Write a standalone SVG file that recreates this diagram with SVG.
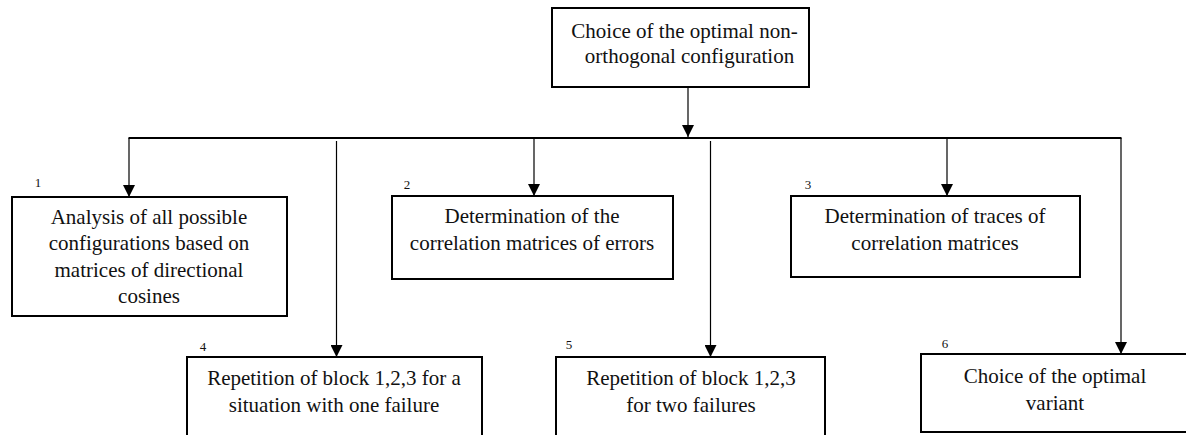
<svg xmlns="http://www.w3.org/2000/svg" width="1186" height="435" viewBox="0 0 1186 435">
<style>
.box{fill:#fff;stroke:#000;stroke-width:2}
.t{font-family:'Liberation Serif','Times New Roman',serif;font-size:21px;fill:#111;text-anchor:middle}
.n{font-family:'Liberation Serif','Times New Roman',serif;font-size:13px;fill:#111;text-anchor:middle}
.c{stroke:#000;stroke-width:1.2;fill:none}
.h{stroke:#000;stroke-width:2;fill:none}
</style>
<defs>
<marker id="arr" viewBox="0 0 12 12" refX="12" refY="6" markerWidth="12" markerHeight="12" markerUnits="userSpaceOnUse" orient="auto">
<path d="M0,0 L12,6 L0,12 z" fill="#000"/>
</marker>
</defs>
<rect width="1186" height="435" fill="#fff"/>
<g id="connectors">
<line class="c" x1="688" y1="87" x2="688" y2="137" marker-end="url(#arr)"/>
<line class="h" x1="128.5" y1="138" x2="1121.5" y2="138"/>
<line class="c" x1="129" y1="138" x2="129" y2="197" marker-end="url(#arr)"/>
<line class="c" x1="534" y1="138" x2="534" y2="196" marker-end="url(#arr)"/>
<line class="c" x1="947" y1="138" x2="947" y2="196" marker-end="url(#arr)"/>
<line class="c" x1="1121" y1="138" x2="1121" y2="354" marker-end="url(#arr)"/>
<line class="c" x1="336.5" y1="141" x2="336.5" y2="357" marker-end="url(#arr)"/>
<line class="c" x1="710.5" y1="141" x2="710.5" y2="357" marker-end="url(#arr)"/>
</g>
<g id="node0">
<rect class="box" x="552" y="8" width="257" height="79"/>
<text class="t" x="684.5" y="38">Choice of the optimal non-</text>
<text class="t" x="689.5" y="63">orthogonal configuration</text>
</g>
<g id="node1">
<rect class="box" x="12" y="197" width="275" height="119"/>
<text class="n" x="38" y="187">1</text>
<text class="t" x="149" y="224">Analysis of all possible</text>
<text class="t" x="149" y="250">configurations based on</text>
<text class="t" x="149" y="277">matrices of directional</text>
<text class="t" x="149" y="303">cosines</text>
</g>
<g id="node2">
<rect class="box" x="392" y="196" width="281" height="83"/>
<text class="n" x="407" y="189">2</text>
<text class="t" x="532" y="223">Determination of the</text>
<text class="t" x="532" y="250">correlation matrices of errors</text>
</g>
<g id="node3">
<rect class="box" x="791" y="196" width="289" height="81"/>
<text class="n" x="808" y="189">3</text>
<text class="t" x="935" y="223">Determination of traces of</text>
<text class="t" x="935" y="250">correlation matrices</text>
</g>
<g id="node4">
<rect class="box" x="187" y="357" width="295" height="90"/>
<text class="n" x="203" y="351">4</text>
<text class="t" x="334" y="385">Repetition of block 1,2,3 for a</text>
<text class="t" x="334" y="412">situation with one failure</text>
</g>
<g id="node5">
<rect class="box" x="556" y="357" width="269" height="90"/>
<text class="n" x="569" y="349">5</text>
<text class="t" x="691" y="385">Repetition of block 1,2,3</text>
<text class="t" x="691" y="412">for two failures</text>
</g>
<g id="node6">
<rect class="box" x="921" y="354" width="268" height="78"/>
<text class="n" x="945" y="348">6</text>
<text class="t" x="1055" y="383">Choice of the optimal</text>
<text class="t" x="1055" y="410">variant</text>
</g>
</svg>
